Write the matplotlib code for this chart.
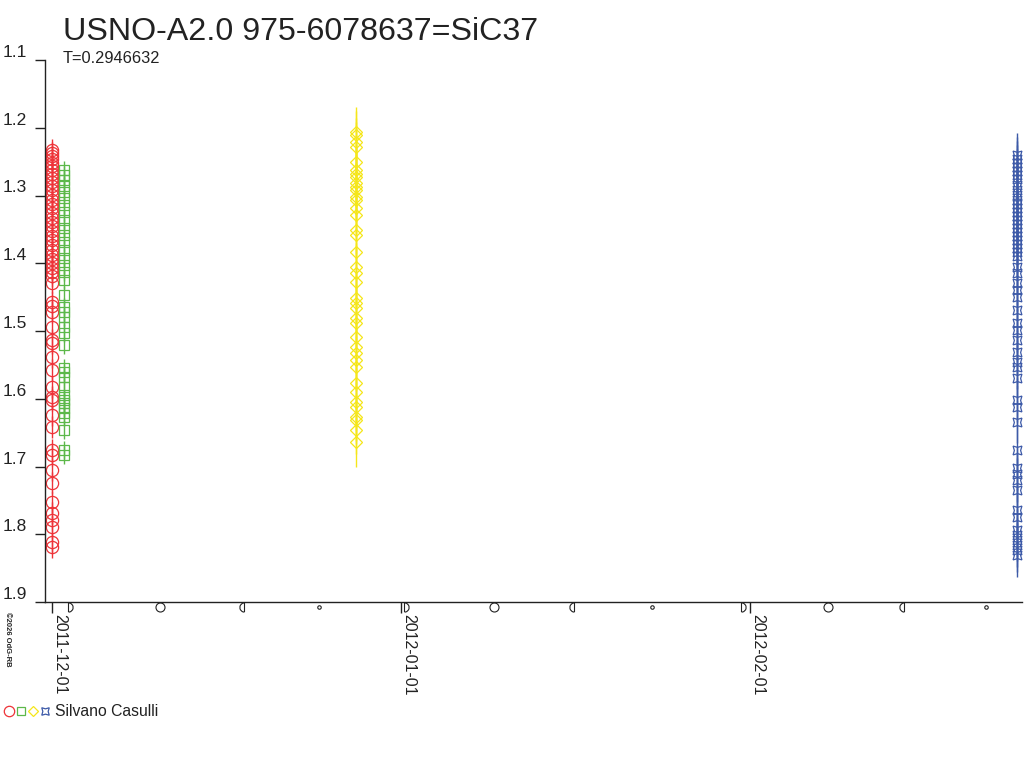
import matplotlib
matplotlib.use('Agg')
import matplotlib.pyplot as plt
import matplotlib.dates as mdates
from matplotlib.path import Path
from matplotlib.legend_handler import HandlerTuple
from matplotlib.lines import Line2D
import numpy as np
import datetime as dt

plt.rcParams['font.family'] = ['Liberation Sans', 'DejaVu Sans']

title = "USNO-A2.0 975-6078637=SiC37"
subtitle = "T=0.2946632"
observer = "Silvano Casulli"
credit = "©2026 OdG-RB"

# series: observation date, magnitudes, error
red_date = dt.datetime(2011, 11, 30, 23, 0)
red_mag = [1.233, 1.237, 1.242, 1.246, 1.252, 1.256, 1.262, 1.268, 1.274, 1.280,
           1.286, 1.292, 1.299, 1.307, 1.313, 1.318, 1.326, 1.333, 1.339, 1.345,
           1.352, 1.360, 1.366, 1.373, 1.380, 1.388, 1.394, 1.400, 1.407, 1.413,
           1.419, 1.429, 1.457, 1.463, 1.472, 1.494, 1.513, 1.518, 1.538, 1.558,
           1.583, 1.597, 1.602, 1.624, 1.642, 1.676, 1.683, 1.705, 1.724, 1.752,
           1.769, 1.779, 1.789, 1.811, 1.819]
red_err = 0.016

green_date = dt.datetime(2011, 12, 2, 2, 0)
green_mag = [1.262, 1.270, 1.277, 1.286, 1.295, 1.304, 1.314, 1.324, 1.336, 1.348,
             1.358, 1.369, 1.380, 1.392, 1.403, 1.413, 1.425, 1.447, 1.465, 1.472,
             1.479, 1.494, 1.503, 1.521, 1.555, 1.561, 1.568, 1.583, 1.594, 1.602,
             1.606, 1.614, 1.621, 1.627, 1.646, 1.676, 1.683]
green_err = 0.013

yellow_date = dt.datetime(2011, 12, 28, 1, 0)
yellow_mag = [1.206, 1.211, 1.221, 1.228, 1.251, 1.262, 1.268, 1.273, 1.282, 1.287,
              1.292, 1.302, 1.307, 1.318, 1.329, 1.351, 1.358, 1.383, 1.406, 1.414,
              1.428, 1.451, 1.459, 1.466, 1.481, 1.488, 1.509, 1.524, 1.532, 1.543,
              1.553, 1.577, 1.590, 1.605, 1.612, 1.627, 1.631, 1.646, 1.664]
yellow_err = 0.036

blue_date = dt.datetime(2012, 2, 24, 18, 0)
blue_mag = [1.240, 1.246, 1.252, 1.258, 1.264, 1.270, 1.276, 1.285, 1.292, 1.299,
            1.307, 1.313, 1.318, 1.324, 1.330, 1.336, 1.342, 1.348, 1.354, 1.360,
            1.366, 1.372, 1.377, 1.383, 1.389, 1.406, 1.414, 1.429, 1.439, 1.450,
            1.469, 1.488, 1.499, 1.513, 1.531, 1.546, 1.553, 1.569, 1.602, 1.612,
            1.634, 1.676, 1.702, 1.711, 1.720, 1.735, 1.764, 1.775, 1.794, 1.801,
            1.808, 1.816, 1.823, 1.831]
blue_err = 0.032

# moon phases
first_quarter = [dt.datetime(2011, 12, 2, 10), dt.datetime(2012, 1, 1, 6), dt.datetime(2012, 1, 31, 4)]
full_moon = [dt.datetime(2011, 12, 10, 15), dt.datetime(2012, 1, 9, 7), dt.datetime(2012, 2, 7, 22)]
last_quarter = [dt.datetime(2011, 12, 18, 1), dt.datetime(2012, 1, 16, 9), dt.datetime(2012, 2, 14, 17)]
new_moon = [dt.datetime(2011, 12, 24, 18), dt.datetime(2012, 1, 23, 8), dt.datetime(2012, 2, 21, 23)]

month_ticks = [dt.datetime(2011, 12, 1), dt.datetime(2012, 1, 1), dt.datetime(2012, 2, 1)]
y_ticks = [1.1, 1.2, 1.3, 1.4, 1.5, 1.6, 1.7, 1.8, 1.9]
x_min = dt.datetime(2011, 11, 30, 9, 7)
x_max = dt.datetime(2012, 2, 25, 3, 36)

fig = plt.figure(figsize=(10.24, 7.68), dpi=100)
ax = fig.add_axes([45/1024, 1-602/768, (1022-45)/1024, (602-60)/768])

c_red = '#ee3338'
c_green = '#5cb84a'
c_yellow = '#f5e61a'
c_blue = '#3d5aa8'
blue_marker = (4, 1, 45)

series = [
    (red_date, red_mag, red_err, c_red, 'o', 8.8),
    (green_date, green_mag, green_err, c_green, 's', 6.8),
    (yellow_date, yellow_mag, yellow_err, c_yellow, 'D', 6.4),
    (blue_date, blue_mag, blue_err, c_blue, blue_marker, 9.0),
]
for d, mags, err, col, mk, ms in series:
    xs = [d] * len(mags)
    ax.errorbar(xs, mags, yerr=err, fmt='none', ecolor=col, elinewidth=1.0, capsize=0)
    ax.plot(xs, mags, linestyle='none', marker=mk, markersize=ms,
            markerfacecolor='none', markeredgecolor=col, markeredgewidth=0.9)

ax.set_ylim(1.9, 1.1)
ax.set_xlim(x_min, x_max)
ax.set_yticks(y_ticks)
ax.set_yticklabels([f"{v:.1f}" for v in y_ticks])
ax.set_xticks(month_ticks)
ax.set_xticklabels([d.strftime('%Y-%m-%d') for d in month_ticks], rotation=270,
                   ha='left', va='top', fontsize=11.5, color='#222222')
for lab in ax.get_yticklabels():
    lab.set_va('bottom')
ax.tick_params(axis='y', direction='out', length=7.2, width=1, pad=6, labelsize=12.5,
               labelcolor='#222222', color='#222222')
ax.tick_params(axis='x', direction='out', length=8, width=1, pad=1,
               color='#222222')
for s in ['top', 'right']:
    ax.spines[s].set_visible(False)
for s in ['left', 'bottom']:
    ax.spines[s].set_color('#222222')
    ax.spines[s].set_linewidth(1)

# moon phase glyphs
arc = Path.arc(-90, 90)
dverts = np.vstack([arc.vertices, [[0, 1], [0, -1]]])
d_path = Path(dverts)
rev_path = Path(dverts * np.array([-1, 1]))
tr = ax.get_xaxis_transform()
mk_kw = dict(linestyle='none', markerfacecolor='none', markeredgecolor='#222222',
             markeredgewidth=0.8, transform=tr, clip_on=False)
ax.plot(first_quarter, [-0.0095] * len(first_quarter), marker=d_path, markersize=6.5, **mk_kw)
ax.plot(last_quarter, [-0.0095] * len(last_quarter), marker=rev_path, markersize=6.5, **mk_kw)
ax.plot(full_moon, [-0.0095] * len(full_moon), marker='o', markersize=6.5, **mk_kw)
ax.plot(new_moon, [-0.0095] * len(new_moon), marker='o', markersize=2.5, **mk_kw)

fig.text(63/1024, 1-40/768, title, fontsize=23.2, color='#222222', va='baseline', ha='left')
fig.text(63/1024, 1-63/768, subtitle, fontsize=11.8, color='#222222', va='baseline', ha='left')
fig.text(4/1024, 1-612/768, credit, fontsize=5.5, rotation=270, va='top', ha='left',
         color='#222222', fontweight='bold')

handles = tuple(Line2D([], [], linestyle='none', marker=mk, markersize=ms * 0.85,
                       markerfacecolor='none', markeredgecolor=col, markeredgewidth=0.9)
                for _, _, _, col, mk, ms in series)
fig.legend([handles], [observer], handler_map={tuple: HandlerTuple(ndivide=None, pad=0.1)},
           loc='center left', bbox_to_anchor=(-0.003, 1-712/768), frameon=False,
           fontsize=11.3, handlelength=3.0, handletextpad=0.3, borderaxespad=0,
           labelcolor='#222222')

fig.savefig('out.png', dpi=100)
